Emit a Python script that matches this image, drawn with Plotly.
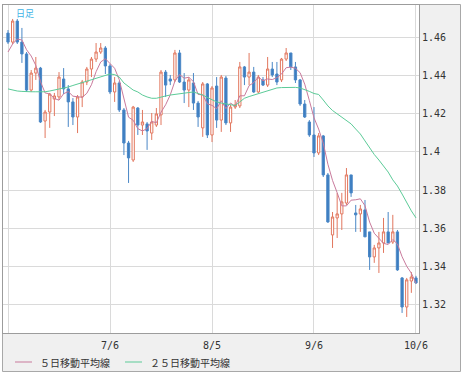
import plotly.graph_objects as go

# ---- data (daily candles) ----
dates = [
    "6/6", "6/7", "6/8", "6/9", "6/10", "6/13", "6/14", "6/15", "6/16", "6/17",
    "6/20", "6/21", "6/22", "6/23", "6/24", "6/27", "6/28", "6/29", "6/30", "7/1",
    "7/4", "7/5", "7/6", "7/7", "7/8", "7/11", "7/12", "7/13", "7/14", "7/15",
    "7/18", "7/19", "7/20", "7/21", "7/22", "7/25", "7/26", "7/27", "7/28", "7/29",
    "8/1", "8/2", "8/3", "8/4", "8/5", "8/8", "8/9", "8/10", "8/11", "8/12",
    "8/15", "8/16", "8/17", "8/18", "8/19", "8/22", "8/23", "8/24", "8/25", "8/26",
    "8/29", "8/30", "8/31", "9/1", "9/2", "9/5", "9/6", "9/7", "9/8", "9/9",
    "9/12", "9/13", "9/14", "9/15", "9/16", "9/19", "9/20", "9/21", "9/22", "9/23",
    "9/26", "9/27", "9/28", "9/29", "9/30", "10/3", "10/4", "10/5", "10/6",
]

open_ = [
    1.4622, 1.4575, 1.4685, 1.4575, 1.4513, 1.4324, 1.4413, 1.4439, 1.4162, 1.4209,
    1.4277, 1.4288, 1.4382, 1.4330, 1.4262, 1.4183, 1.4288, 1.4366, 1.4434, 1.4486,
    1.4523, 1.4544, 1.4450, 1.4314, 1.4361, 1.4220, 1.4047, 1.3958, 1.4230, 1.4141,
    1.4147, 1.4099, 1.4141, 1.4194, 1.4418, 1.4382, 1.4377, 1.4518, 1.4366, 1.4324,
    1.4361, 1.4256, 1.4126, 1.4356, 1.4089, 1.4345, 1.4167, 1.4387, 1.4152, 1.4235,
    1.4241, 1.4445, 1.4392, 1.4418, 1.4314, 1.4377, 1.4350, 1.4434, 1.4408, 1.4377,
    1.4486, 1.4518, 1.4445, 1.4377, 1.4251, 1.4157, 1.4089, 1.3995, 1.4084, 1.3880,
    1.3566, 1.3655, 1.3676, 1.3733, 1.3880, 1.3681, 1.3676, 1.3697, 1.3582, 1.3451,
    1.3498, 1.3524, 1.3582, 1.3529, 1.3582, 1.3341, 1.3189, 1.3325, 1.3341,
]
high = [
    1.4638, 1.4696, 1.4696, 1.4649, 1.4523, 1.4429, 1.4497, 1.4445, 1.4220, 1.4309,
    1.4309, 1.4418, 1.4439, 1.4350, 1.4282, 1.4298, 1.4377, 1.4445, 1.4497, 1.4570,
    1.4570, 1.4554, 1.4460, 1.4392, 1.4371, 1.4230, 1.4058, 1.4241, 1.4235, 1.4220,
    1.4157, 1.4204, 1.4230, 1.4429, 1.4429, 1.4403, 1.4534, 1.4534, 1.4413, 1.4392,
    1.4413, 1.4267, 1.4366, 1.4361, 1.4345, 1.4392, 1.4403, 1.4398, 1.4246, 1.4272,
    1.4471, 1.4450, 1.4518, 1.4445, 1.4403, 1.4392, 1.4497, 1.4471, 1.4471, 1.4492,
    1.4544, 1.4518, 1.4471, 1.4382, 1.4272, 1.4167, 1.4235, 1.4099, 1.4089, 1.3890,
    1.3686, 1.3786, 1.3786, 1.3916, 1.3880, 1.3723, 1.3723, 1.3749, 1.3582, 1.3514,
    1.3582, 1.3655, 1.3686, 1.3671, 1.3592, 1.3346, 1.3341, 1.3372, 1.3352,
]
low = [
    1.4565, 1.4565, 1.4565, 1.4466, 1.4314, 1.4314, 1.4377, 1.4152, 1.4073, 1.4126,
    1.4188, 1.4272, 1.4303, 1.4131, 1.4141, 1.4099, 1.4235, 1.4350, 1.4392, 1.4471,
    1.4513, 1.4408, 1.4303, 1.4262, 1.4209, 1.3984, 1.3838, 1.3948, 1.4089, 1.4089,
    1.4011, 1.4063, 1.4131, 1.4141, 1.4288, 1.4350, 1.4366, 1.4361, 1.4256, 1.4235,
    1.4220, 1.4131, 1.4079, 1.4073, 1.4052, 1.4126, 1.4105, 1.4141, 1.4105, 1.4225,
    1.4230, 1.4350, 1.4350, 1.4309, 1.4309, 1.4345, 1.4340, 1.4392, 1.4350, 1.4366,
    1.4476, 1.4429, 1.4361, 1.4241, 1.4178, 1.4079, 1.3974, 1.3984, 1.3869, 1.3629,
    1.3498, 1.3550, 1.3592, 1.3723, 1.3765, 1.3582, 1.3582, 1.3556, 1.3383, 1.3420,
    1.3367, 1.3472, 1.3524, 1.3519, 1.3378, 1.3158, 1.3137, 1.3263, 1.3310,
]
close = [
    1.4575, 1.4685, 1.4575, 1.4513, 1.4324, 1.4413, 1.4439, 1.4157, 1.4209, 1.4303,
    1.4293, 1.4392, 1.4330, 1.4262, 1.4183, 1.4288, 1.4366, 1.4434, 1.4486, 1.4523,
    1.4544, 1.4450, 1.4314, 1.4361, 1.4220, 1.4047, 1.3969, 1.4235, 1.4141, 1.4157,
    1.4110, 1.4157, 1.4199, 1.4418, 1.4350, 1.4371, 1.4518, 1.4366, 1.4324, 1.4377,
    1.4256, 1.4183, 1.4356, 1.4089, 1.4335, 1.4167, 1.4392, 1.4152, 1.4235, 1.4246,
    1.4445, 1.4392, 1.4418, 1.4314, 1.4392, 1.4350, 1.4434, 1.4403, 1.4366, 1.4486,
    1.4518, 1.4445, 1.4377, 1.4251, 1.4183, 1.4089, 1.3995, 1.4084, 1.3880, 1.3634,
    1.3660, 1.3676, 1.3739, 1.3880, 1.3786, 1.3671, 1.3702, 1.3556, 1.3451, 1.3498,
    1.3524, 1.3582, 1.3524, 1.3582, 1.3383, 1.3189, 1.3331, 1.3346, 1.3315,
]

ma5 = [
    1.4523, 1.4565, 1.4591, 1.4586, 1.4535, 1.4502, 1.4453, 1.4369, 1.4309, 1.4304,
    1.4280, 1.4271, 1.4305, 1.4316, 1.4292, 1.4291, 1.4286, 1.4307, 1.4352, 1.4420,
    1.4471, 1.4488, 1.4463, 1.4438, 1.4378, 1.4278, 1.4182, 1.4166, 1.4122, 1.4110,
    1.4122, 1.4160, 1.4153, 1.4208, 1.4247, 1.4299, 1.4371, 1.4405, 1.4386, 1.4391,
    1.4368, 1.4301, 1.4299, 1.4252, 1.4244, 1.4226, 1.4268, 1.4227, 1.4256, 1.4239,
    1.4294, 1.4294, 1.4347, 1.4363, 1.4392, 1.4373, 1.4382, 1.4379, 1.4389, 1.4408,
    1.4441, 1.4444, 1.4438, 1.4415, 1.4355, 1.4269, 1.4179, 1.4120, 1.4046, 1.3936,
    1.3851, 1.3787, 1.3718, 1.3718, 1.3748, 1.3750, 1.3755, 1.3719, 1.3633, 1.3575,
    1.3546, 1.3522, 1.3516, 1.3542, 1.3519, 1.3452, 1.3402, 1.3366, 1.3313,
]
ma25 = [
    1.4330, 1.4324, 1.4319, 1.4317, 1.4315, 1.4315, 1.4315, 1.4315, 1.4315, 1.4319,
    1.4324, 1.4330, 1.4333, 1.4340, 1.4348, 1.4356, 1.4364, 1.4371, 1.4379, 1.4387,
    1.4395, 1.4403, 1.4408, 1.4405, 1.4392, 1.4361, 1.4340, 1.4324, 1.4314, 1.4298,
    1.4288, 1.4281, 1.4281, 1.4285, 1.4293, 1.4298, 1.4302, 1.4306, 1.4309, 1.4311,
    1.4314, 1.4306, 1.4298, 1.4285, 1.4272, 1.4262, 1.4256, 1.4251, 1.4246, 1.4243,
    1.4262, 1.4281, 1.4290, 1.4298, 1.4306, 1.4314, 1.4322, 1.4330, 1.4335, 1.4337,
    1.4338, 1.4338, 1.4338, 1.4335, 1.4327, 1.4317, 1.4306, 1.4301, 1.4272, 1.4241,
    1.4217, 1.4199, 1.4183, 1.4167, 1.4147, 1.4120, 1.4094, 1.4058, 1.4021, 1.3987,
    1.3958, 1.3927, 1.3895, 1.3854, 1.3822, 1.3780, 1.3733, 1.3692, 1.3655,
]

y_ticks = [1.32, 1.34, 1.36, 1.38, 1.40, 1.42, 1.44, 1.46]
y_tick_labels = ["1.32", "1.34", "1.36", "1.38", "1.4", "1.42", "1.44", "1.46"]
x_tick_dates = ["6/6", "7/6", "8/5", "9/6", "10/6"]
x_tick_labels = ["", "7/6", "8/5", "9/6", "10/6"]

ma5_name = "５日移動平均線"
ma25_name = "２５日移動平均線"
chart_label = "日足"

# ---- styles ----
UP_LINE = "#e2775e"
DOWN_LINE = "#4a87c6"
DOWN_FILL = "#3c7dc0"
MA5_COLOR = "#c97a9c"
MA25_COLOR = "#5ccb98"
GRID = "#dadada"
BORDER = "#9c9c9c"
TICK_FONT = dict(family="DejaVu Sans Mono", size=10, color="#333333")
JP_FONT = "Noto Sans CJK JP"

fig = go.Figure()
fig.add_trace(go.Candlestick(
    x=dates, open=open_, high=high, low=low, close=close,
    increasing=dict(line=dict(color=UP_LINE, width=1), fillcolor="white"),
    decreasing=dict(line=dict(color=DOWN_LINE, width=1), fillcolor=DOWN_FILL),
    showlegend=False, hoverinfo="skip",
))
fig.add_trace(go.Scatter(x=dates, y=ma5, mode="lines", name=ma5_name,
                         line=dict(color=MA5_COLOR, width=1), hoverinfo="skip"))
fig.add_trace(go.Scatter(x=dates, y=ma25, mode="lines", name=ma25_name,
                         line=dict(color=MA25_COLOR, width=1), hoverinfo="skip"))

# plot area: x 3..419 px, y 5..333 px
W, H = 463, 376
L, R, T, B = 3, 44, 5, 43
pw, ph = W - L - R, H - T - B

def px(xpix):
    return (xpix - L) / pw

def py(ypix):
    return (H - B - ypix) / ph

shapes = [
    dict(type="rect", xref="paper", yref="paper", layer="below",
         x0=px(2.5), x1=px(460.5), y0=py(371.5), y1=py(4.5),
         fillcolor="#f0f0f0", line=dict(color="#a8a8a8", width=1)),
    dict(type="rect", xref="paper", yref="paper", layer="below",
         x0=0, x1=1, y0=0, y1=1, fillcolor="white", line=dict(width=0)),
    dict(type="line", xref="paper", yref="paper", x0=px(15), x1=px(32),
         y0=py(362), y1=py(362), line=dict(color=MA5_COLOR, width=1)),
    dict(type="line", xref="paper", yref="paper", x0=px(125), x1=px(142),
         y0=py(362), y1=py(362), line=dict(color=MA25_COLOR, width=1)),
]
annotations = [
    dict(xref="paper", yref="paper", x=px(38), y=py(362), xanchor="left",
         yanchor="middle", text=ma5_name, showarrow=False,
         font=dict(family=JP_FONT, size=10, color="#333333")),
    dict(xref="paper", yref="paper", x=px(148), y=py(362), xanchor="left",
         yanchor="middle", text=ma25_name, showarrow=False,
         font=dict(family=JP_FONT, size=10, color="#333333")),
    dict(xref="paper", yref="paper", x=px(14), y=py(13), xanchor="left",
         yanchor="middle", text=chart_label, showarrow=False,
         font=dict(family=JP_FONT, size=9, color="#3db3e6")),
]

fig.update_layout(
    width=W, height=H,
    margin=dict(l=L, r=R, t=T, b=B, pad=0),
    paper_bgcolor="white", plot_bgcolor="white",
    showlegend=False,
    shapes=shapes, annotations=annotations,
    xaxis=dict(type="category", range=[-1.08, 88.65],
               tickmode="array", tickvals=x_tick_dates, ticktext=x_tick_labels,
               showgrid=True, gridcolor=GRID, gridwidth=1,
               showline=True, mirror=True, linecolor=BORDER, linewidth=1,
               ticks="", tickfont=TICK_FONT, tickangle=0, ticklabelstandoff=3,
               rangeslider=dict(visible=False), fixedrange=True),
    yaxis=dict(side="right", range=[1.3053, 1.4769],
               tickmode="array", tickvals=y_ticks, ticktext=y_tick_labels,
               showgrid=True, gridcolor=GRID, gridwidth=1, zeroline=False,
               showline=True, mirror=True, linecolor=BORDER, linewidth=1,
               ticks="", tickfont=TICK_FONT, fixedrange=True),
)

fig.write_html("out.html", config={"displayModeBar": False},
               post_script="document.body.style.margin='0px';")
